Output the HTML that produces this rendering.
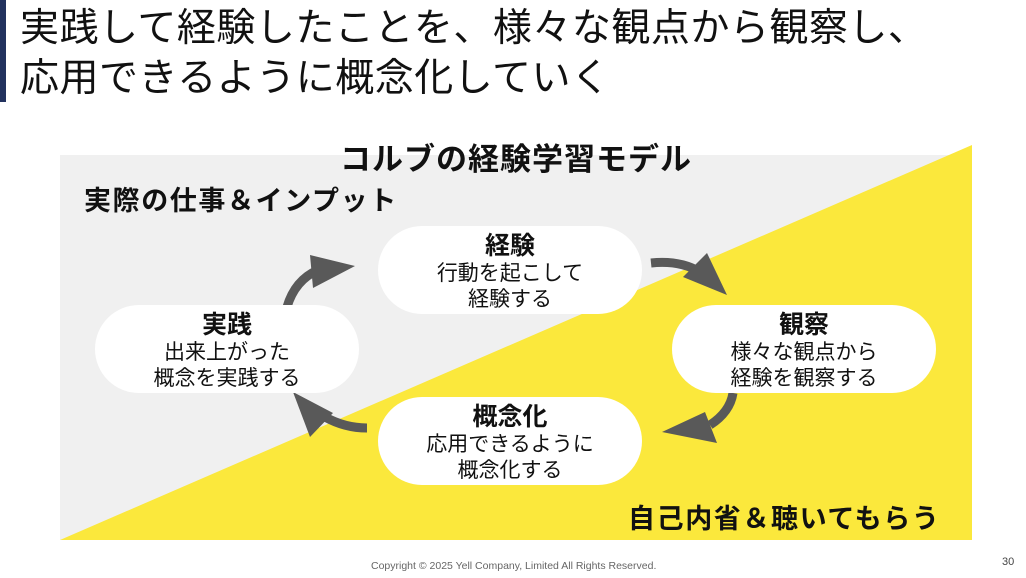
<!DOCTYPE html>
<html><head><meta charset="utf-8"><style>
body{margin:0;width:1026px;height:578px;background:#fff;position:relative;overflow:hidden;font-family:"Liberation Sans","Noto Sans CJK JP",sans-serif;color:#111}
.t{position:absolute;left:20px;font-size:39px;line-height:50px;white-space:nowrap;letter-spacing:0.5px}
.pill{position:absolute;width:264px;height:88px;background:#fff;border-radius:44px;text-align:center;font-size:21px;line-height:26px;box-sizing:border-box;padding-top:5px}
.pill b{display:block;font-size:25px;line-height:30px;font-weight:bold}
.abs{position:absolute;white-space:nowrap;font-weight:bold}
</style></head><body>
<div style="position:absolute;left:0;top:0;width:6px;height:102px;background:#22325e"></div>
<div class="t" style="top:4px">実践して経験したことを、様々な観点から観察し、</div>
<div class="t" style="top:54px">応用できるように概念化していく</div>
<svg style="position:absolute;left:0;top:0" width="1026" height="578">
<rect x="60" y="155" width="912" height="385" fill="#f0f0f0"/>
<polygon points="60,540 972,145 972,540" fill="#fbe83c"/>
<g fill="none" stroke="#595959" stroke-width="9">
<path d="M287,307 Q295,280 318,270"/>
<path d="M651,263 Q680,260 700,272"/>
<path d="M733,393 Q730,412 710,425"/>
<path d="M367,428 Q345,428 325,417"/>
</g>
<g fill="#595959">
<polygon points="355,266 310,255 313,288"/>
<polygon points="727,295 707,253 683,277"/>
<polygon points="662,432 705,412 717,443"/>
<polygon points="293,392 333,413 310,437"/>
</g>
</svg>
<div class="abs" style="left:340px;top:134px;font-size:31px;letter-spacing:1px">コルブの経験学習モデル</div>
<div class="abs" style="left:84px;top:179px;font-size:27px;letter-spacing:1.6px">実際の仕事＆インプット</div>
<div class="abs" style="left:628px;top:497px;font-size:27px;letter-spacing:1.6px">自己内省＆聴いてもらう</div>
<div class="pill" style="left:378px;top:226px"><b>経験</b>行動を起こして<br>経験する</div>
<div class="pill" style="left:95px;top:305px"><b>実践</b>出来上がった<br>概念を実践する</div>
<div class="pill" style="left:672px;top:305px"><b>観察</b>様々な観点から<br>経験を観察する</div>
<div class="pill" style="left:378px;top:397px"><b>概念化</b>応用できるように<br>概念化する</div>
<div style="position:absolute;left:371px;top:560px;font-size:10.5px;color:#666;white-space:nowrap">Copyright © 2025 Yell Company, Limited All Rights Reserved.</div>
<div style="position:absolute;left:1002px;top:556px;font-size:11px;color:#444">30</div>
</body></html>
